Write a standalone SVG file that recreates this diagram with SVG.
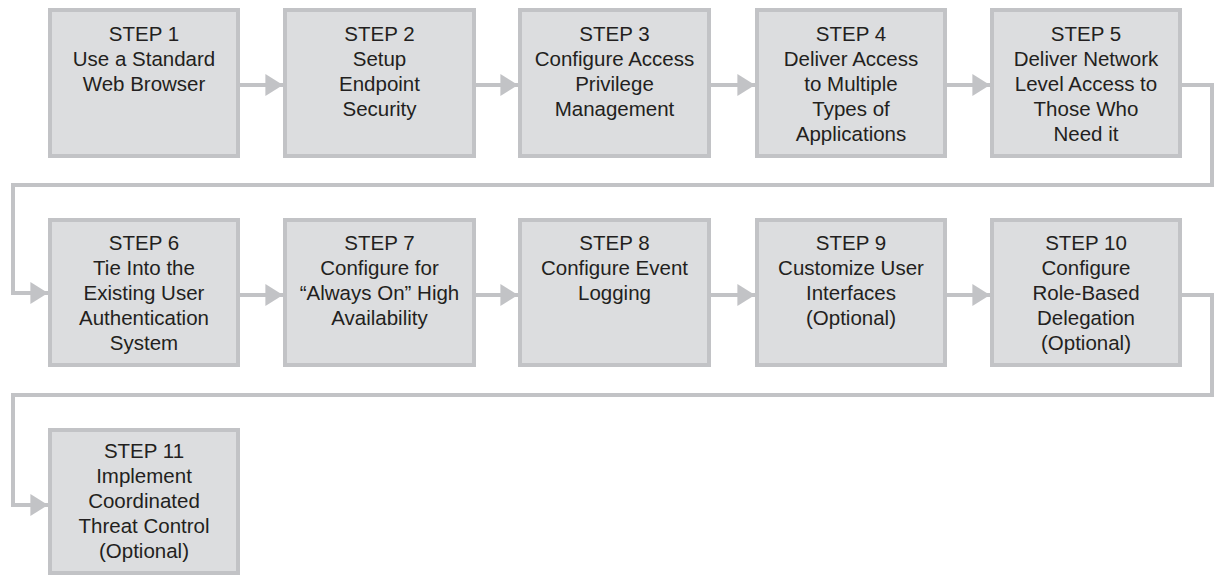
<svg xmlns="http://www.w3.org/2000/svg" width="1216" height="575" viewBox="0 0 1216 575">
<style>
.box{fill:#dcdddf;stroke:#c2c3c6;stroke-width:4}
.t{font-family:"Liberation Sans",Arial,sans-serif;font-size:20.5px;fill:#231f20;text-anchor:middle}
.c{fill:none;stroke:#c2c3c6;stroke-width:4;marker-end:url(#ah)}
</style>
<defs>
<marker id="ah" markerUnits="userSpaceOnUse" markerWidth="18" markerHeight="22" viewBox="0 0 16 20" refX="16" refY="10" orient="auto">
<path d="M0,0 L16,10 L0,20 Z" fill="#c2c3c6"/>
</marker>
</defs>
<rect width="1216" height="575" fill="#ffffff"/>
<g id="connectors">
<path class="c" d="M240,85 H283"/>
<path class="c" d="M476,85 H518"/>
<path class="c" d="M711,85 H755"/>
<path class="c" d="M947,85 H990"/>
<path class="c" d="M1182,85 H1212 V185 H13 V293 H48"/>
<path class="c" d="M240,295 H283"/>
<path class="c" d="M476,295 H518"/>
<path class="c" d="M711,295 H755"/>
<path class="c" d="M947,295 H990"/>
<path class="c" d="M1182,295 H1212 V395 H13 V505 H48"/>
</g>
<g id="step1"><rect class="box" x="50" y="10" width="188" height="146"/>
<text class="t" x="144" y="41">STEP 1<tspan x="144" dy="25">Use a Standard</tspan><tspan x="144" dy="25">Web Browser</tspan></text></g>
<g id="step2"><rect class="box" x="285" y="10" width="189" height="146"/>
<text class="t" x="379.5" y="41">STEP 2<tspan x="379.5" dy="25">Setup</tspan><tspan x="379.5" dy="25">Endpoint</tspan><tspan x="379.5" dy="25">Security</tspan></text></g>
<g id="step3"><rect class="box" x="520" y="10" width="189" height="146"/>
<text class="t" x="614.5" y="41">STEP 3<tspan x="614.5" dy="25">Configure Access</tspan><tspan x="614.5" dy="25">Privilege</tspan><tspan x="614.5" dy="25">Management</tspan></text></g>
<g id="step4"><rect class="box" x="757" y="10" width="188" height="146"/>
<text class="t" x="851" y="41">STEP 4<tspan x="851" dy="25">Deliver Access</tspan><tspan x="851" dy="25">to Multiple</tspan><tspan x="851" dy="25">Types of</tspan><tspan x="851" dy="25">Applications</tspan></text></g>
<g id="step5"><rect class="box" x="992" y="10" width="188" height="146"/>
<text class="t" x="1086" y="41">STEP 5<tspan x="1086" dy="25">Deliver Network</tspan><tspan x="1086" dy="25">Level Access to</tspan><tspan x="1086" dy="25">Those Who</tspan><tspan x="1086" dy="25">Need it</tspan></text></g>
<g id="step6"><rect class="box" x="50" y="220" width="188" height="145"/>
<text class="t" x="144" y="250">STEP 6<tspan x="144" dy="25">Tie Into the</tspan><tspan x="144" dy="25">Existing User</tspan><tspan x="144" dy="25">Authentication</tspan><tspan x="144" dy="25">System</tspan></text></g>
<g id="step7"><rect class="box" x="285" y="220" width="189" height="145"/>
<text class="t" x="379.5" y="250">STEP 7<tspan x="379.5" dy="25">Configure for</tspan><tspan x="379.5" dy="25">“Always On” High</tspan><tspan x="379.5" dy="25">Availability</tspan></text></g>
<g id="step8"><rect class="box" x="520" y="220" width="189" height="145"/>
<text class="t" x="614.5" y="250">STEP 8<tspan x="614.5" dy="25">Configure Event</tspan><tspan x="614.5" dy="25">Logging</tspan></text></g>
<g id="step9"><rect class="box" x="757" y="220" width="188" height="145"/>
<text class="t" x="851" y="250">STEP 9<tspan x="851" dy="25">Customize User</tspan><tspan x="851" dy="25">Interfaces</tspan><tspan x="851" dy="25">(Optional)</tspan></text></g>
<g id="step10"><rect class="box" x="992" y="220" width="188" height="145"/>
<text class="t" x="1086" y="250">STEP 10<tspan x="1086" dy="25">Configure</tspan><tspan x="1086" dy="25">Role-Based</tspan><tspan x="1086" dy="25">Delegation</tspan><tspan x="1086" dy="25">(Optional)</tspan></text></g>
<g id="step11"><rect class="box" x="50" y="430" width="188" height="143"/>
<text class="t" x="144" y="458">STEP 11<tspan x="144" dy="25">Implement</tspan><tspan x="144" dy="25">Coordinated</tspan><tspan x="144" dy="25">Threat Control</tspan><tspan x="144" dy="25">(Optional)</tspan></text></g>
</svg>
